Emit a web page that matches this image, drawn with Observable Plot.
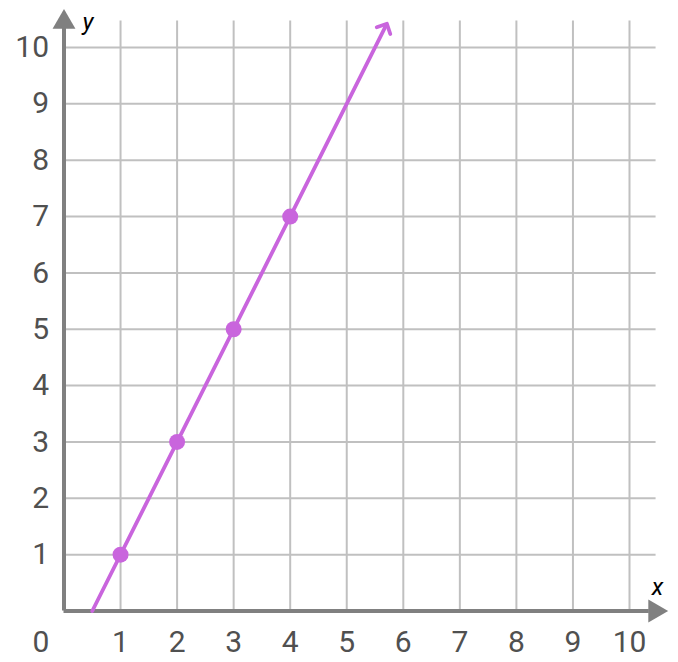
<!DOCTYPE html>
<html>
<head>
<meta charset="utf-8">
<script src="https://cdn.jsdelivr.net/npm/d3@7"></script>
<script src="https://cdn.jsdelivr.net/npm/@observablehq/plot@0.6"></script>
<style>
  html, body { margin: 0; padding: 0; background: #fff; }
  svg { display: block; }
</style>
</head>
<body>
<div id="chart"></div>
<script>
// Data
const ticks = [1, 2, 3, 4, 5, 6, 7, 8, 9, 10];
const pointX = [1, 2, 3, 4];
const pointY = [1, 3, 5, 7];
const lineX = [0.5, 5.68];
const lineY = [0, 10.36];
const gridEnd = 10.47;
const axisEnd = 10.6;

const points = pointX.map((x, i) => ({x, y: pointY[i]}));
const line = lineX.map((x, i) => ({x, y: lineY[i]}));

const purple = "#c965dd";
const axisColor = "#808080";
const gridColor = "#c0c0c0";
const labelColor = "#505050";
const font = "Roboto, 'Noto Sans', sans-serif";

const chart = Plot.plot({
  width: 678,
  height: 662,
  margin: 0,
  x: {domain: [0, 10], range: [63.5, 629], axis: null},
  y: {domain: [0, 10], range: [610.5, 47], axis: null},
  style: {fontFamily: font, background: "#fff"},
  marks: [
    // grid
    Plot.ruleX(ticks, {x: d => d, y1: 0, y2: gridEnd, stroke: gridColor, strokeWidth: 2}),
    Plot.ruleY(ticks, {y: d => d, x1: 0, x2: gridEnd, stroke: gridColor, strokeWidth: 2}),
    // axes
    Plot.ruleX([0], {y1: 0, y2: axisEnd - 0.25, stroke: axisColor, strokeWidth: 4}),
    Plot.ruleY([0], {x1: 0, x2: axisEnd - 0.25, stroke: axisColor, strokeWidth: 4}),
    Plot.dot([0], {x: 0, y: axisEnd - 0.15, symbol: "triangle", r: 8.5, fill: axisColor, stroke: "none"}),
    Plot.dot([0], {x: axisEnd - 0.15, y: 0, symbol: "triangle", r: 8.5, rotate: 90, fill: axisColor, stroke: "none"}),
    // tick labels
    Plot.text(ticks, {x: 0, y: d => d, text: d => String(d), dx: -15, textAnchor: "end", fontSize: 30, fill: labelColor}),
    Plot.text(ticks, {x: d => d, y: 0, text: d => String(d), dy: 31, textAnchor: "middle", fontSize: 30, fill: labelColor}),
    Plot.text([0], {x: 0, y: 0, text: d => String(d), dx: -23, dy: 31, textAnchor: "middle", fontSize: 30, fill: labelColor}),
    // axis names
    Plot.text(["x"], {x: 10, y: 0, text: d => d, dx: 28, dy: -24, fontSize: 24, fontStyle: "italic", fill: "#000"}),
    Plot.text(["y"], {x: 0, y: 10, text: d => d, dx: 24, dy: -25, fontSize: 24, fontStyle: "italic", fill: "#000"}),
    // line & points
    Plot.line(line, {x: "x", y: "y", stroke: purple, strokeWidth: 3.8, markerEnd: "arrow"}),
    Plot.dot(points, {x: "x", y: "y", r: 8, fill: purple, stroke: "none"})
  ]
});
document.getElementById("chart").appendChild(chart);
</script>
</body>
</html>
